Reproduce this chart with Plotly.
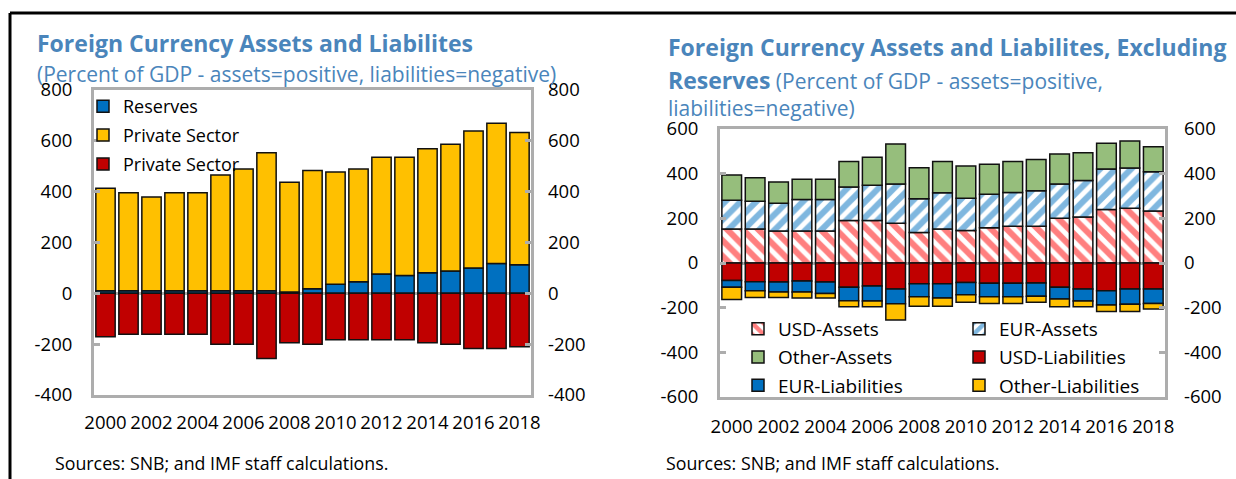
import plotly.graph_objects as go

# ---------------- data ----------------
years = list(range(2000, 2019))
tick_years = list(range(2000, 2019, 2))
left_ticks = [-400, -200, 0, 200, 400, 600, 800]
right_ticks = [-600, -400, -200, 0, 200, 400, 600]

# Left chart (percent of GDP)
reserves = [10, 10, 10, 10, 10, 10, 10, 10, 5, 18, 36, 46, 76, 70, 81, 88, 100, 117, 112]
private_assets = [403, 386, 369, 386, 386, 456, 479, 543, 432, 465, 441, 443, 459, 465, 488, 499, 539, 552, 521]
private_liabilities = [-171, -161, -161, -161, -161, -200, -200, -256, -194, -200, -183, -183, -183, -183, -194, -200, -217, -217, -210]

# Right chart (percent of GDP, excluding reserves)
usd_assets = [152, 152, 143, 143, 143, 190, 190, 178, 137, 152, 145, 158, 164, 164, 200, 206, 239, 245, 233]
eur_assets = [129, 124, 124, 141, 141, 150, 158, 176, 151, 163, 145, 150, 152, 160, 154, 163, 182, 180, 176]
other_assets = [113, 106, 96, 91, 91, 114, 125, 179, 139, 139, 144, 134, 139, 139, 134, 125, 115, 121, 112]
usd_liabilities = [-78, -84, -85, -81, -85, -109, -103, -116, -93, -93, -87, -91, -91, -90, -109, -116, -124, -116, -116]
eur_liabilities = [-31, -40, -45, -49, -52, -60, -67, -66, -58, -64, -55, -60, -60, -59, -52, -54, -64, -69, -65]
other_liabilities = [-54, -31, -25, -27, -20, -27, -26, -73, -43, -37, -34, -30, -30, -27, -35, -26, -29, -32, -25]

# ---------------- style ----------------
W, H = 1236, 479
FONT = "Open Sans"
TITLE_BLUE = "#4A85BB"
GRAY = "#ADADAD"
BLUE = "#0070C0"
YELLOW = "#FFC000"
RED = "#C00000"
GREEN = "#96BE7C"
EDGE = dict(color="#111111", width=1.5)


def px_x(v):
    return v / W


def px_y(v):
    return 1 - v / H


fig = go.Figure()

# Left chart traces (liabilities drawn against the right-hand twin axis, same scale)
fig.add_trace(go.Bar(x=years, y=reserves, name="Reserves", marker=dict(color=BLUE, line=EDGE),
                     xaxis="x", yaxis="y", legend="legend", legendgroup="a"))
fig.add_trace(go.Bar(x=years, y=private_assets, name="Private Sector", marker=dict(color=YELLOW, line=EDGE),
                     xaxis="x", yaxis="y", legend="legend", legendgroup="b"))
fig.add_trace(go.Bar(x=years, y=private_liabilities, name="Private Sector", marker=dict(color=RED, line=EDGE),
                     xaxis="x", yaxis="y2", legend="legend", legendgroup="c"))

# Right chart traces
pat = dict(bgcolor="white", size=11, solidity=0.55)
fig.add_trace(go.Bar(x=years, y=usd_assets, name="USD-Assets",
                     marker=dict(color="white", line=EDGE, pattern=dict(shape="\\", fgcolor="#FF0000", **pat)),
                     xaxis="x2", yaxis="y3", legend="legend2", legendgroup="d"))
fig.add_trace(go.Bar(x=years, y=eur_assets, name="EUR-Assets",
                     marker=dict(color="white", line=EDGE, pattern=dict(shape="/", fgcolor=BLUE, **pat)),
                     xaxis="x2", yaxis="y3", legend="legend3", legendgroup="e"))
fig.add_trace(go.Bar(x=years, y=other_assets, name="Other-Assets", marker=dict(color=GREEN, line=EDGE),
                     xaxis="x2", yaxis="y3", legend="legend2", legendgroup="f"))
fig.add_trace(go.Bar(x=years, y=usd_liabilities, name="USD-Liabilities", marker=dict(color=RED, line=EDGE),
                     xaxis="x2", yaxis="y4", legend="legend3", legendgroup="g"))
fig.add_trace(go.Bar(x=years, y=eur_liabilities, name="EUR-Liabilities", marker=dict(color=BLUE, line=EDGE),
                     xaxis="x2", yaxis="y4", legend="legend2", legendgroup="h"))
fig.add_trace(go.Bar(x=years, y=other_liabilities, name="Other-Liabilities", marker=dict(color=YELLOW, line=EDGE),
                     xaxis="x2", yaxis="y4", legend="legend3", legendgroup="i"))

tickfont = dict(family=FONT, size=18.5, color="black")

xcommon = dict(tickmode="array", tickvals=tick_years, ticktext=[str(t) for t in tick_years],
               ticks="", showline=True, mirror=True, linecolor=GRAY, linewidth=3,
               showgrid=False, zeroline=False, tickfont=tickfont,
               range=[1999.5, 2018.5], fixedrange=True, automargin=False, layer="above traces")

ycommon = dict(showgrid=False, ticks="inside", ticklen=6, tickwidth=3, tickcolor=GRAY, tickmode="array",
               tickfont=tickfont, automargin=False, layer="above traces", fixedrange=True)

left_y = dict(range=[-400, 800], tickvals=left_ticks, ticktext=[str(t) for t in left_ticks])
right_y = dict(range=[-600, 600], tickvals=right_ticks, ticktext=[str(t) for t in right_ticks])

Lx = [px_x(94), px_x(531)]
Ly = [px_y(395), px_y(90)]
Rx = [px_x(720), px_x(1165)]
Ry = [px_y(397), px_y(129)]

legend_common = dict(bgcolor="rgba(0,0,0,0)", borderwidth=0, traceorder="grouped",
                     xanchor="left", yanchor="top", orientation="v")

fig.update_layout(
    width=W, height=H,
    margin=dict(l=0, r=0, t=0, b=0),
    paper_bgcolor="white", plot_bgcolor="white",
    barmode="relative",
    font=dict(family=FONT, color="black"),
    showlegend=True,
    xaxis=dict(domain=Lx, anchor="y", ticklabelstandoff=9, **xcommon),
    yaxis=dict(domain=Ly, anchor="x", side="left",
               showline=True, mirror=True, linecolor=GRAY, linewidth=3,
               zeroline=True, zerolinecolor=GRAY, zerolinewidth=3, ticklabelstandoff=15,
               **left_y, **ycommon),
    yaxis2=dict(overlaying="y", anchor="x", side="right",
                showline=False, zeroline=True, zerolinecolor=GRAY, zerolinewidth=3,
                ticklabelstandoff=16, **left_y, **ycommon),
    xaxis2=dict(domain=Rx, anchor="y3", ticklabelstandoff=11, **xcommon),
    yaxis3=dict(domain=Ry, anchor="x2", side="left",
                showline=True, mirror=True, linecolor=GRAY, linewidth=3,
                zeroline=True, zerolinecolor=GRAY, zerolinewidth=3, ticklabelstandoff=15,
                **right_y, **ycommon),
    yaxis4=dict(overlaying="y3", anchor="x2", side="right",
                showline=False, zeroline=True, zerolinecolor=GRAY, zerolinewidth=3,
                ticklabelstandoff=18, **right_y, **ycommon),
    bargap=0.16,
    legend=dict(x=px_x(83), y=px_y(88), tracegroupgap=2.5,
                font=dict(family=FONT, size=18, color="black"), **legend_common),
    legend2=dict(x=px_x(738), y=px_y(310), tracegroupgap=0.5,
                 font=dict(family=FONT, size=19, color="black"), **legend_common),
    legend3=dict(x=px_x(959), y=px_y(310), tracegroupgap=0.5,
                 font=dict(family=FONT, size=19, color="black"), **legend_common),
)

title_bold = dict(family=FONT, size=23, color=TITLE_BLUE)
title_reg = dict(family=FONT, size=21, color=TITLE_BLUE)

annotations = [
    dict(text="<b>Foreign Currency Assets and Liabilites</b>", x=px_x(35), y=px_y(43),
         font=title_bold),
    dict(text="(Percent of GDP - assets=positive, liabilities=negative)", x=px_x(35), y=px_y(74),
         font=title_reg),
    dict(text="<b>Foreign Currency Assets and Liabilites, Excluding</b>", x=px_x(666), y=px_y(47),
         font=title_bold),
    dict(text="<b><span style='font-size:23px'>Reserves</span></b> (Percent of GDP - assets=positive,",
         x=px_x(666), y=px_y(80), font=title_reg),
    dict(text="liabilities=negative)", x=px_x(666), y=px_y(108), font=title_reg),
    dict(text="Sources: SNB; and IMF staff calculations.", x=px_x(53), y=px_y(463),
         font=dict(family=FONT, size=17.8, color="black")),
    dict(text="Sources: SNB; and IMF staff calculations.", x=px_x(664), y=px_y(463),
         font=dict(family=FONT, size=17.8, color="black")),
]
for a in annotations:
    a.update(xref="paper", yref="paper", xanchor="left", yanchor="middle", showarrow=False, align="left")
fig.update_layout(annotations=annotations)

# outer frame of the figure panel
fig.update_layout(shapes=[
    dict(type="line", xref="paper", yref="paper", x0=px_x(10), x1=1, y0=px_y(13), y1=px_y(13),
         line=dict(color="black", width=3)),
    dict(type="line", xref="paper", yref="paper", x0=px_x(10), x1=px_x(10), y0=0, y1=px_y(13),
         line=dict(color="black", width=3)),
])

fig.write_html("out.html", config={"displayModeBar": False},
               post_script="document.body.style.margin='0';document.body.style.padding='0';")
